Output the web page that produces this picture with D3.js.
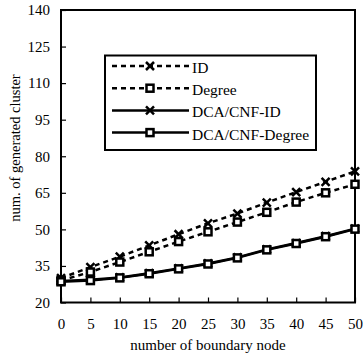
<!DOCTYPE html>
<html>
<head>
<meta charset="utf-8">
<script src="https://cdn.jsdelivr.net/npm/d3@7"></script>
<style>
  body { margin: 0; background: #fff; }
  svg { display: block; }
  svg text { font-family: "Liberation Serif", "Times New Roman", serif; fill: #000; }
</style>
</head>
<body>
<div id="chart"></div>
<script>
// data
const boundary = [0, 5, 10, 15, 20, 25, 30, 35, 40, 45, 50];
const idVals = [30, 34.5, 38.8, 43.4, 48, 52.5, 56.5, 61, 65.3, 69.5, 73.8];
const degreeVals = [29, 32.5, 36.6, 40.8, 45, 49, 53, 57, 61.2, 65, 68.5];
const dcaIdVals = [28.8, 29.3, 30.3, 32, 34, 36, 38.5, 41.8, 44.4, 47.2, 50.3];
const dcaDegreeVals = [28.5, 29, 30.1, 31.8, 33.8, 35.8, 38.3, 41.6, 44.2, 47, 50.1];
const seriesNames = ["ID", "Degree", "DCA/CNF-ID", "DCA/CNF-Degree"];
const yTicks = [20, 35, 50, 65, 80, 95, 110, 125, 140];

const W = 363, H = 358;
const MARGIN = { LEFT: 61, RIGHT: 8, TOP: 10, BOTTOM: 55.5 };

const svg = d3.select("#chart").append("svg")
  .attr("width", W).attr("height", H);

const x = d3.scaleLinear().domain([0, 50]).range([MARGIN.LEFT, W - MARGIN.RIGHT]);
const y = d3.scaleLinear().domain([20, 140]).range([H - MARGIN.BOTTOM, MARGIN.TOP]);

const series = [
  { name: seriesNames[0], vals: idVals, dash: "5,4", marker: "x" },
  { name: seriesNames[1], vals: degreeVals, dash: "5,4", marker: "sq" },
  { name: seriesNames[2], vals: dcaIdVals, dash: null, marker: "x" },
  { name: seriesNames[3], vals: dcaDegreeVals, dash: null, marker: "sq" },
];

// axes (ticks point inward)
const xAxis = d3.axisBottom(x).tickValues(boundary).tickSize(-5).tickPadding(16);
const yAxis = d3.axisLeft(y).tickValues(yTicks).tickSize(-5).tickPadding(11);

const gx = svg.append("g").attr("transform", `translate(0,${y(20)})`).call(xAxis);
const gy = svg.append("g").attr("transform", `translate(${x(0)},0)`).call(yAxis);
[gx, gy].forEach(g => {
  g.attr("font-family", null).attr("font-size", null);
  g.select(".domain").remove();
  g.selectAll(".tick line").attr("stroke", "#000").attr("stroke-width", 1.2);
  g.selectAll(".tick text").style("font-size", "15px");
});

// frame
svg.append("rect")
  .attr("x", x(0)).attr("y", y(140))
  .attr("width", x(50) - x(0)).attr("height", y(20) - y(140))
  .attr("fill", "none").attr("stroke", "#000").attr("stroke-width", 2);

function drawMarker(g, type, cx, cy, s) {
  if (type === "x") {
    g.append("path")
      .attr("d", `M${cx - s},${cy - s}L${cx + s},${cy + s}M${cx - s},${cy + s}L${cx + s},${cy - s}`)
      .attr("stroke", "#000").attr("stroke-width", 2.5).attr("fill", "none");
  } else {
    g.append("rect")
      .attr("x", cx - s).attr("y", cy - s).attr("width", 2 * s).attr("height", 2 * s)
      .attr("fill", "#fff").attr("stroke", "#000").attr("stroke-width", 2.5);
  }
}

const line = d3.line().x((d, i) => x(boundary[i])).y(d => y(d));

const plot = svg.append("g");
series.forEach(s => {
  plot.append("path")
    .datum(s.vals)
    .attr("d", line)
    .attr("fill", "none")
    .attr("stroke", "#000")
    .attr("stroke-width", 2.5)
    .attr("stroke-dasharray", s.dash);
});
series.forEach(s => {
  s.vals.forEach((v, i) => drawMarker(plot, s.marker, x(boundary[i]), y(v), s.marker === "x" ? 4 : 3.5));
});

// legend
const leg = svg.append("g");
leg.append("rect")
  .attr("x", 105).attr("y", 55.5).attr("width", 211).attr("height", 94.5)
  .attr("fill", "#fff").attr("stroke", "#000").attr("stroke-width", 2);
series.forEach((s, i) => {
  const ly = 66 + i * 22.2;
  leg.append("line")
    .attr("x1", 112).attr("x2", 189).attr("y1", ly).attr("y2", ly)
    .attr("stroke", "#000").attr("stroke-width", 2.5)
    .attr("stroke-dasharray", s.dash);
  drawMarker(leg, s.marker, 150, ly, s.marker === "x" ? 4 : 3.5);
  leg.append("text")
    .attr("x", 192).attr("y", ly + 7)
    .style("font-size", "15.5px")
    .text(s.name);
});

// axis titles
svg.append("text")
  .attr("x", (x(0) + x(50)) / 2).attr("y", 350)
  .attr("text-anchor", "middle")
  .style("font-size", "15px")
  .text("number of boundary node");

svg.append("text")
  .attr("transform", `translate(20,148) rotate(-90)`)
  .attr("text-anchor", "middle")
  .style("font-size", "14.5px")
  .text("num. of generated cluster");
</script>
</body>
</html>
